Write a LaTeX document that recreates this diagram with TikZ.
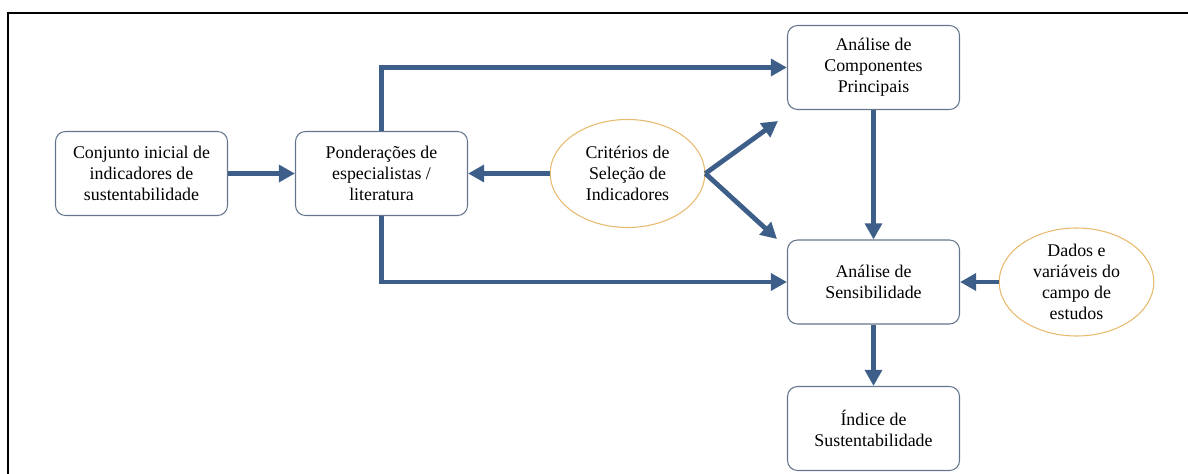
\documentclass[tikz,border=0pt]{standalone}
\usepackage{fontspec}
\setmainfont{Liberation Serif}
\usetikzlibrary{arrows.meta,shapes.geometric}
\definecolor{flowblue}{RGB}{62,94,138}
\definecolor{boxgray}{RGB}{100,118,140}
\definecolor{ellorange}{RGB}{232,186,110}
\begin{document}
\begin{tikzpicture}[x=0.75pt,y=-0.75pt,
    bx/.style={shape=rectangle,rounded corners=7.5pt,draw=boxgray,line width=0.8pt,
      minimum width=129pt,minimum height=63pt,align=center,font=\fontsize{13.4}{15.75}\selectfont},
    el/.style={shape=ellipse,draw=ellorange,line width=0.8pt,minimum width=116pt,
      minimum height=81pt,inner xsep=0pt,inner ysep=-2pt,align=center,font=\fontsize{13.4}{15.75}\selectfont},
    fl/.style={draw=flowblue,line width=3.6pt,-{Triangle[length=12pt,width=12.5pt]}}]
    \useasboundingbox (0,0) rectangle (1188,474);
    \draw[line width=1.7pt] (8.3,474) -- (8.3,12.7) -- (1188,12.7);

    \node[bx] (conj) at (141.5,173.5) {Conjunto inicial de\\indicadores de\\sustentabilidade};
    \node[bx] (pond) at (381.5,173.5) {Ponderações de\\especialistas /\\literatura};
    \node[el] (crit) at (627.5,173.5) {Critérios de\\Seleção de\\Indicadores};
    \node[bx] (acp) at (873.5,67.5) {Análise de\\Componentes\\Principais};
    \node[bx] (asens) at (873.5,282) {Análise de\\Sensibilidade};
    \node[bx] (indice) at (873.5,428.5) {Índice de\\Sustentabilidade};
    \node[el] (dados) at (1076.5,282) {Dados e\\variáveis do\\campo de\\estudos};
    \coordinate (up) at (778,121);
    \coordinate (down) at (777,239);

    \draw[fl] (conj) -- (pond);
    \draw[fl] (crit) -- (pond);
    \draw[fl] (pond) |- (acp);
    \draw[fl] (pond) |- (asens);
    \draw[fl] (crit.east) -- (up);
    \draw[fl] (crit.east) -- (down);
    \draw[fl] (acp) -- (asens);
    \draw[fl] (dados) -- (asens);
    \draw[fl] (asens) -- (indice);

  \end{tikzpicture}
\end{document}
